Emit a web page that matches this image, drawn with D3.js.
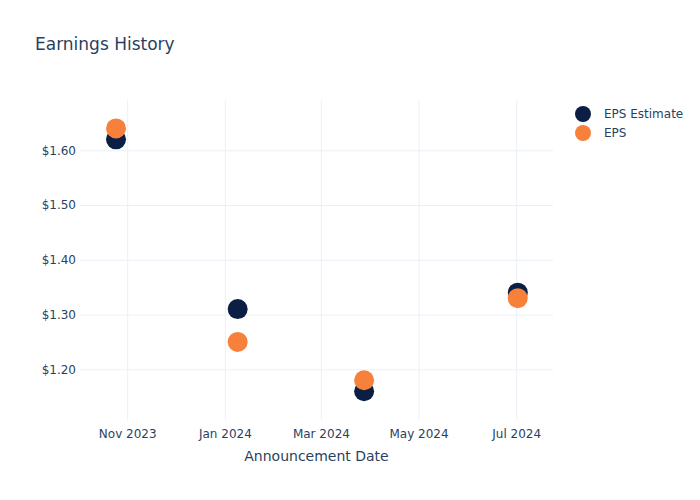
<!DOCTYPE html>
<html><head><meta charset="utf-8">
<script src="https://cdn.jsdelivr.net/npm/d3@7"></script>
<style>body{margin:0;background:#fff;} text{font-family:"DejaVu Sans",Verdana,sans-serif;}</style>
</head><body>
<svg id="c" width="700" height="500"></svg>
<script>
const dates = ["2023-10-25","2024-01-09","2024-03-28","2024-07-02"];
const epsEstimate = [1.62, 1.31, 1.16, 1.34];
const eps = [1.64, 1.25, 1.18, 1.33];
const yTicks = [1.2, 1.3, 1.4, 1.5, 1.6];
const xTicks = ["2023-11-01","2024-01-01","2024-03-01","2024-05-01","2024-07-01"];
const seriesNames = ["EPS Estimate", "EPS"];
const colors = ["#0b1f45", "#f7813a"];

const parse = d3.timeParse("%Y-%m-%d");
const svg = d3.select("#c");
const L = 80, R = 553, T = 100, B = 420;
const x = d3.scaleTime().domain([new Date(2023,9,2,12), new Date(2024,6,24)]).range([L, R]);
const y = d3.scaleLinear().domain([1.1074, 1.6919]).range([B, T]);
const textColor = "#2a3f5f", grid = "#ebf0f8";

svg.append("text").attr("x",35).attr("y",50).attr("font-size",17).attr("fill",textColor).text("Earnings History");

const xAxis = d3.axisBottom(x).tickValues(xTicks.map(parse)).tickFormat(d3.timeFormat("%b %Y")).tickSize(-(B-T)).tickPadding(9);
const gx = svg.append("g").attr("transform",`translate(0,${B})`).call(xAxis);
gx.select(".domain").remove();
gx.selectAll("line").attr("stroke",grid);
gx.selectAll("text").attr("fill",textColor).attr("font-size",12).attr("font-family","DejaVu Sans");

const yAxis = d3.axisLeft(y).tickValues(yTicks).tickFormat(d => "$" + d.toFixed(2)).tickSize(-(R-L)).tickPadding(4);
const gy = svg.append("g").attr("transform",`translate(${L},0)`).call(yAxis);
gy.select(".domain").remove();
gy.selectAll("line").attr("stroke",grid);
gy.selectAll("text").attr("fill",textColor).attr("font-size",12).attr("font-family","DejaVu Sans");

svg.append("text").attr("x",(L+R)/2).attr("y",461).attr("text-anchor","middle").attr("font-size",14).attr("fill",textColor).text("Announcement Date");

[epsEstimate, eps].forEach((vals, i) => {
  svg.append("g").selectAll("circle").data(vals).join("circle")
    .attr("cx",(d,j)=>x(parse(dates[j]))).attr("cy",d=>y(d)).attr("r",10).attr("fill",colors[i]);
});

const lg = svg.append("g");
seriesNames.forEach((n,i)=>{
  lg.append("circle").attr("cx",583).attr("cy",114+i*19).attr("r",8).attr("fill",colors[i]);
  lg.append("text").attr("x",604).attr("y",118+i*19).attr("font-size",12).attr("fill",textColor).text(n);
});
</script>
</body></html>
